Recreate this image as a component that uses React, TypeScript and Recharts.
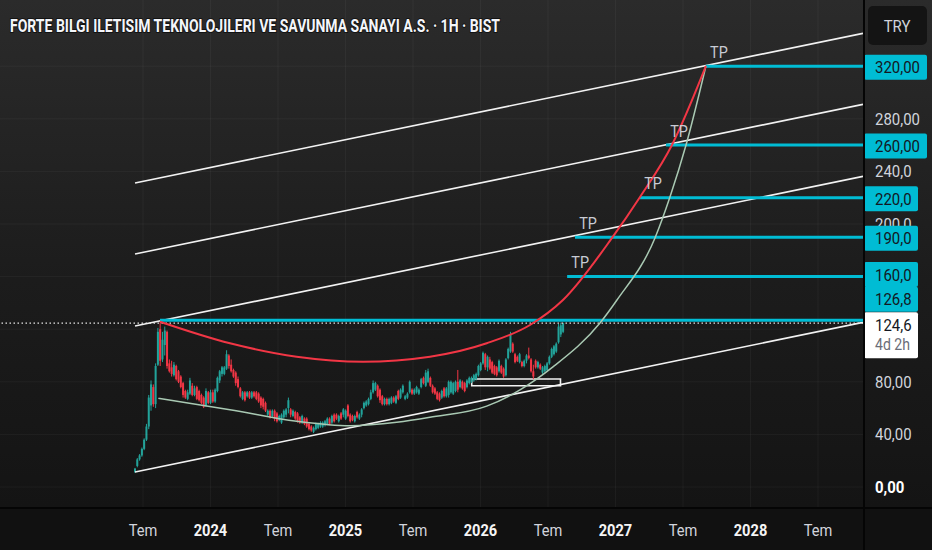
import React from 'react';
import { ComposedChart, Bar, Line, XAxis, YAxis, ReferenceLine, ReferenceArea, Scatter } from 'recharts';

const W = 932;
const H = 550;
const AXIS_W = 69;
const AXIS_H = 43;
const X_MIN = -6.711;
const X_MAX = 70;
const Y_MIN = -15.21;
const Y_MAX = 370.34;

// time is measured in months since Jan 2023
const CANDLE_START = 5.29;
const CANDLE_STEP = 0.2035;

// [open, high, low, close]
const candles: number[][] = [
  [11.5,14.5,10.6,14],[16,22,15,21],[21,25,20,24],[24,30,23,29],[29,37,28,36],[36,48,35,46],
  [46,70,44,68],[62,81,58,78],[76,78,61,63],[63,94,60,92],[93,121,92,118],[120,125,92,96],
  [97,118,95,112],[108,122,100,119],[118,119,90,92],[94,97,87,88],[91,96,84,86],[85,95,84,93],
  [92,93,81,82],[88,89,79,80],[84,85,75,76],[79,80,68,70],[73,74,67,68],[67,74,66,72],
  [71,83,70,81],[77,79,69,70],[70,77,69,75],[76,77,66,67],[73,74,65,66],[70,71,63,64],
  [68,69,60,61],[62,75,61,73],[72,73,63,64],[64,74,63,72],[72,74,64,65],[65,75,64,74],
  [73,84,72,83],[81,89,79,88],[86,92,84,91],[86,92,85,91],[90,104,89,101],[100,101,90,92],
  [93,97,87,88],[89,90,83,84],
  [87,88,77,79],[82,84,75,76],[75,76,68,69],[67,73,66,72],[72,73,65,66],[69,73,68,72],
  [72,73,67,68],[68,73,67,72],[72,73,68,69],[72,73,66,67],[71,72,64,65],[68,69,60,62],
  [67,68,59,61],[64,65,57,58],[55,59,54,58],[58,59,52,53],[54,59,53,58],[58,59,50,52],
  [56,57,49,50],[51,55,50,54],[49,56,48,55],[53,59,52,58],[55,60,53,59],[60,68,56,66],
  [59,60,53,55],[54,59,53,58],[57,58,51,52],[56,57,49,50],[53,54,48,49],[49,55,48,54],
  [52,53,47,48],[52,53,45,46],[48,49,43,44],[46,47,42,43],[42,46,41,45],[44,49,43,48],
  [45,49,44,48],[46,50,45,49],[46,50,45,49],[47,51,46,50],[48,53,47,52],[52,53,47,48],
  [49,55,48,54],[55,56,49,50],[55,56,51,52],[50,55,49,54],[56,57,51,52],[55,60,53,59],
  [52,59,51,58],[62,63,53,54],[55,56,49,50],[54,55,50,51],[50,55,49,54],[57,58,52,53],
  [52,56,51,55],[55,60,53,59],[60,65,59,64],[62,66,61,65],[63,68,62,67],[67,74,66,72],
  [72,81,71,79],[74,80,73,79],[77,78,68,69],[74,75,64,66],[69,70,62,63],[63,68,62,67],
  [67,68,62,63],[63,68,62,67],[64,69,63,68],[68,69,64,65],[64,70,63,69],[73,74,66,67],
  [68,75,67,74],[72,78,71,77],[67,70,66,69],[68,72,67,71],[72,81,71,80],[74,75,70,71],
  [71,75,70,74],[72,77,71,76],[71,75,70,74],[76,83,75,82],[83,84,78,79],[77,89,76,87],
  [80,90,79,88],[83,84,76,77],[77,78,71,72],[75,76,70,71],[72,73,66,67],[71,72,65,66],
  [68,74,67,73],[75,76,68,69],[69,76,68,75],[70,81,68,80],[72,81,71,80],[71,80,70,79],
  [73,81,72,80],[80,89,72,74],[76,82,75,81],[80,81,74,75],[79,80,72,73],[76,82,75,81],
  [79,84,78,83],[80,84,79,83],[81,86,80,85],[82,87,81,86],[85,93,84,92],[89,95,88,94],
  [94,103,93,102],[101,102,89,91],[91,100,88,99],[97,99,89,90],[95,96,86,87],[92,93,85,86],
  [91,92,84,85],[88,97,87,96],[92,93,86,87],[90,91,83,84],[85,98,84,97],[98,106,97,105],
  [103,118,102,116],[109,110,102,103],[101,102,94,95],[99,100,95,96],[95,102,94,101],[95,96,91,92],
  [92,97,91,96],[96,101,94,100],[100,106,97,98],[97,98,87,88],[88,93,82,84],[96,97,90,91],
  [91,96,90,95],[93,94,89,90],[87,92,86,91],[88,93,87,92],[89,95,88,94],[94,100,93,99],
  [99,106,98,105],[101,108,100,107],[103,110,102,109],[110,124,109,122],[116,125,114,123],[118,125,117,124.6],
];

const xTickValues = [6, 12, 18, 24, 30, 36, 42, 48, 54, 60, 66];
const xTickLabels = ['Tem', '2024', 'Tem', '2025', 'Tem', '2026', 'Tem', '2027', 'Tem', '2028', 'Tem'];

const yGridValues = [0, 40, 80, 120, 160, 200, 240, 280, 320];
const yTickValues = [0, 40, 80, 200, 240, 280, 320, 260, 220, 190, 160, 126.8, 124.6];
const yTickLabels = ['0,00', '40,00', '80,00', '200,0', '240,0', '280,00', '320,00', '260,00', '220,0', '190,0', '160,0', '126,8', '124,6'];
const yTickKinds = ['bold', 'plain', 'plain', 'plain', 'plain', 'plain', 'cyan', 'cyan', 'cyan', 'cyan', 'cyan', 'cyan', 'last'];
const lastPriceSub = '4d 2h';
const lastPrice = 124.6;

// parallel channel: price at start time and at the right edge
const channelT = [5.29, 70];
const channelStartV = [11.4, 122.4, 177.2, 231.2];
const channelEndV = [125.2, 236.2, 291.0, 345.0];

const targetPrices = [320, 260, 220, 190, 160, 126.8];
const targetStartT = [56.04, 52.49, 50.18, 44.4, 43.7, 7.51];
const targetEndT = 70;
const tpCount = 5;

const redCurveT = [7.51, 13.73, 19.66, 25.56, 31.51, 36.55, 40.4, 43.33, 47.69, 50.18, 53.02, 56.04];
const redCurveV = [125.7, 109.3, 99.1, 95.3, 99.1, 109.3, 123.2, 142.2, 189.4, 220.5, 260.1, 320.2];

const greenCurveT = [7.36, 13.73, 19.66, 24.4, 28.55, 31.51, 36.55, 39.51, 42.44, 46.62, 48.13, 51.51, 52.84, 54.27, 56.04];
const greenCurveV = [67.4, 58.8, 50.0, 46.6, 49.2, 53.0, 61.5, 73.8, 91.3, 124.7, 142.2, 189.4, 220.5, 260.1, 320.2];

const boxT = [35.22, 43.11];
const boxV = [77.0, 82.1];

const UP = '#22a39a';
const DOWN = '#f23645';
const CYAN = '#00bcd4';
const FONT = 'Roboto, "Noto Sans", sans-serif';

const candleRows = candles.map((c, i) => ({
  t: CANDLE_START + i * CANDLE_STEP,
  o: c[0], h: c[1], l: c[2], c: c[3],
  range: [c[2], c[1]],
}));

const channels = channelStartV.map((v, i) => [
  { t: channelT[0], v },
  { t: channelT[1], v: channelEndV[i] },
]);

const targets = targetPrices.map((p, i) => [
  { t: targetStartT[i], v: p },
  { t: targetEndT, v: p },
]);

const tpPoints = targetPrices.slice(0, tpCount).map((p, i) => ({ t: targetStartT[i], v: p }));

const redCurve = redCurveT.map((t, i) => ({ t, v: redCurveV[i] }));
const greenCurve = greenCurveT.map((t, i) => ({ t, v: greenCurveV[i] }));

const Candle = (props: any) => {
  const { x, y, width, height, payload } = props;
  if (x == null || y == null || !payload) return null;
  const top = Math.min(y, y + height);
  const bot = Math.max(y, y + height);
  const span = payload.h - payload.l || 1;
  const py = (v: number) => top + ((payload.h - v) / span) * (bot - top);
  const up = payload.c >= payload.o;
  const color = up ? UP : DOWN;
  const cx = x + width / 2;
  const bt = py(Math.max(payload.o, payload.c));
  const bb = py(Math.min(payload.o, payload.c));
  return (
    <g>
      <line x1={cx} x2={cx} y1={top} y2={bot} stroke={color} strokeWidth={1} />
      <rect x={cx - 1} y={bt} width={2} height={Math.max(1, bb - bt)} fill={color} />
    </g>
  );
};

const XTick = (props: any) => {
  const { x, payload } = props;
  const i = xTickValues.indexOf(payload.value);
  const label = xTickLabels[i] ?? '';
  const isYear = /^\d/.test(label);
  return (
    <g transform={`translate(${x},536) scale(0.86,1)`}>
      <text x={0} y={0} textAnchor="middle" fontFamily={FONT} fontSize={17}
        fontWeight={isYear ? 700 : 400} fill={isYear ? '#f5f5f5' : '#d1d4dc'}>{label}</text>
    </g>
  );
};

const YTick = (props: any) => {
  const { y, payload } = props;
  const i = yTickValues.indexOf(payload.value);
  if (i < 0) return null;
  const label = yTickLabels[i];
  const kind = yTickKinds[i];
  const X0 = W - AXIS_W + 1;
  const TX = X0 + 11;
  if (kind === 'cyan') {
    const shift = payload.value === 160 ? -3 : payload.value === 126.8 ? -22 : 0;
    const cy = y + 1 + shift;
    const bw = label.length >= 6 ? 63 : 54;
    return (
      <g>
        <rect x={X0} y={cy - 12.5} width={bw} height={25} rx={2} fill={CYAN} />
        <g transform={`translate(${TX},${cy + 6}) scale(0.88,1)`}>
          <text x={0} y={0} fontFamily={FONT} fontSize={17} fill="#131722">{label}</text>
        </g>
      </g>
    );
  }
  if (kind === 'last') {
    return (
      <g>
        <rect x={X0} y={y - 11} width={54} height={46} rx={2} fill="#ffffff" />
        <g transform={`translate(${TX},${y + 8}) scale(0.88,1)`}>
          <text x={0} y={0} fontFamily={FONT} fontSize={17} fill="#131722">{label}</text>
        </g>
        <g transform={`translate(${TX},${y + 27}) scale(0.88,1)`}>
          <text x={0} y={0} fontFamily={FONT} fontSize={16} fill="#6a6d78">{lastPriceSub}</text>
        </g>
      </g>
    );
  }
  return (
    <g transform={`translate(${TX},${y + 6}) scale(0.88,1)`}>
      <text x={0} y={0} fontFamily={FONT} fontSize={17}
        fontWeight={kind === 'bold' ? 700 : 400} fill={kind === 'bold' ? '#ffffff' : '#d1d4dc'}>{label}</text>
    </g>
  );
};

const TPLabel = (props: any) => {
  const { cx, cy } = props;
  if (cx == null || cy == null) return null;
  return (
    <g transform={`translate(${cx + 13},${cy - 8.5}) scale(0.9,1)`}>
      <text x={0} y={0} textAnchor="middle" fontFamily={FONT} fontSize={16} fill="#c9ccd4">TP</text>
    </g>
  );
};

export default function App() {
  return (
    <div style={{
      position: 'absolute', left: 0, top: 0, width: W, height: H, overflow: 'hidden',
      background: 'linear-gradient(180deg, #2b2b2b 0px, #1c1c1c 280px, #141414 507px, #111111 507px, #111111 550px)',
    }}>
      <ComposedChart width={W} height={H} data={candleRows} margin={{ top: 0, right: 0, bottom: 0, left: 0 }}>
        <XAxis dataKey="t" type="number" domain={[X_MIN, X_MAX]} allowDataOverflow ticks={xTickValues}
          interval={0} height={AXIS_H} tick={XTick} tickLine={false} axisLine={false} />
        <YAxis type="number" orientation="right" domain={[Y_MIN, Y_MAX]} allowDataOverflow ticks={yTickValues}
          interval={0} width={AXIS_W} tick={YTick} tickLine={false} axisLine={false} />
        {yGridValues.map((v) => (
          <ReferenceLine key={'gy' + v} y={v} stroke="rgba(255,255,255,0.045)" strokeWidth={1} />
        ))}
        {xTickValues.map((v) => (
          <ReferenceLine key={'gx' + v} x={v} stroke="rgba(255,255,255,0.045)" strokeWidth={1} />
        ))}
        <ReferenceLine y={lastPrice} stroke="#e6e6e6" strokeWidth={1.3} strokeDasharray="1.5 2.5" />
        <Bar dataKey="range" barSize={2} shape={(p: any) => <Candle {...p} />} isAnimationActive={false} />
        {channels.map((d, i) => (
          <Line key={'ch' + i} data={d} dataKey="v" type="linear" stroke="#f2f2f2" strokeWidth={1.6}
            dot={false} activeDot={false} isAnimationActive={false} />
        ))}
        {targets.map((d, i) => (
          <Line key={'tg' + i} data={d} dataKey="v" type="linear" stroke={CYAN} strokeWidth={3}
            dot={false} activeDot={false} isAnimationActive={false} />
        ))}
        <Line data={greenCurve} dataKey="v" type="monotone" stroke="#a9c9b3" strokeWidth={1.5}
          dot={false} activeDot={false} isAnimationActive={false} />
        <Line data={redCurve} dataKey="v" type="monotone" stroke="#f23645" strokeWidth={2}
          dot={false} activeDot={false} isAnimationActive={false} />
        <ReferenceArea x1={boxT[0]} x2={boxT[1]} y1={boxV[0]} y2={boxV[1]} fill="none" fillOpacity={0}
          stroke="#f2f2f2" strokeWidth={1.6} />
        <Scatter data={tpPoints} dataKey="v" shape={(p: any) => <TPLabel {...p} />} isAnimationActive={false} />
      </ComposedChart>
      <svg style={{ position: 'absolute', left: 0, top: 0 }} width={W} height={60}>
        <text x={10} y={31.5} fontFamily={FONT} fontWeight={700} fontSize={18} fill="#f4f6fa"
          stroke="rgba(0,0,0,0.55)" strokeWidth={2} paintOrder="stroke"
          textLength={490} lengthAdjust="spacingAndGlyphs">
          FORTE BILGI ILETISIM TEKNOLOJILERI VE SAVUNMA SANAYI A.S. · 1H · BIST
        </text>
        <rect x={868} y={6} width={59} height={39} rx={5} fill="#141414" />
        <g transform="translate(897,32) scale(0.88,1)">
          <text x={0} y={0} textAnchor="middle" fontFamily={FONT} fontSize={17} fill="#d1d4dc">TRY</text>
        </g>
      </svg>
      <div style={{ position: 'absolute', left: W - AXIS_W, top: 0, width: 2, height: H, background: '#050505' }} />
      <div style={{ position: 'absolute', left: 0, top: H - AXIS_H, width: W, height: 2, background: '#050505' }} />
    </div>
  );
}
